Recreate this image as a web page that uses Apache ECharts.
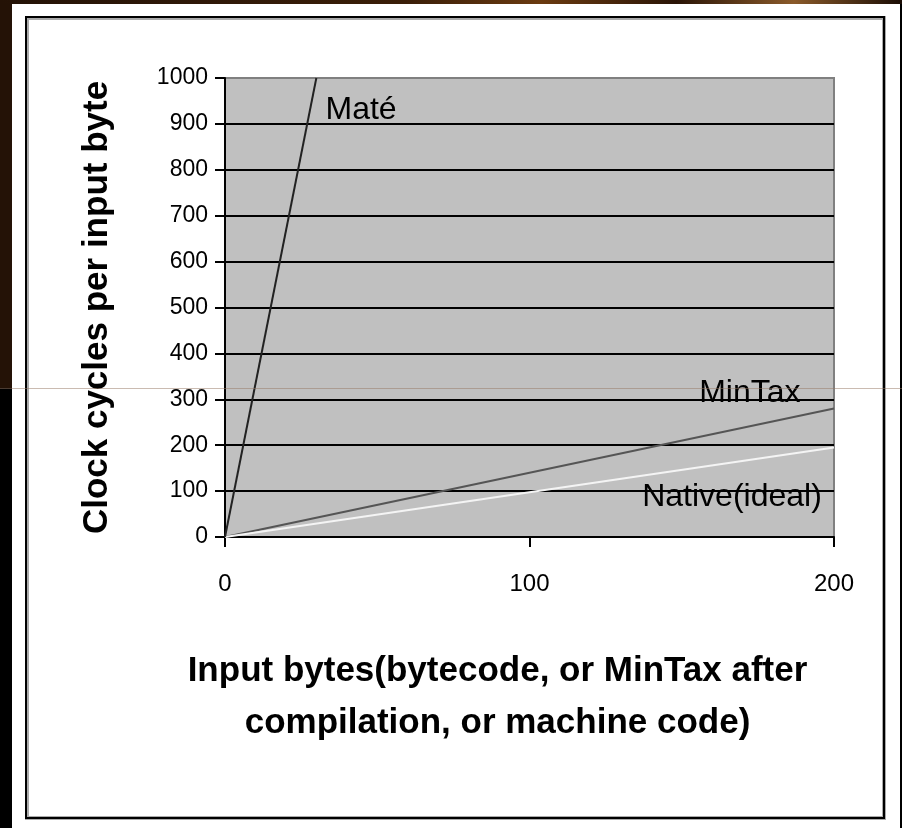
<!DOCTYPE html>
<html>
<head>
<meta charset="utf-8">
<script src="https://cdn.jsdelivr.net/npm/echarts@6/dist/echarts.min.js"></script>
<style>
html,body{margin:0;padding:0;background:#000;}
#main{width:902px;height:828px;}
</style>
</head>
<body>
<div id="main"></div>
<script>
var yTicks = [0, 100, 200, 300, 400, 500, 600, 700, 800, 900, 1000];
var xTicks = [0, 100, 200];
var mateData = [[0, 0], [30, 1000]];
var minTaxData = [[0, 0], [200, 280]];
var nativeData = [[0, 0], [200, 195]];
var seriesLabels = [
  {text: 'Maté', at: [33, 929], align: 'left'},
  {text: 'MinTax', at: [189, 314], align: 'right'},
  {text: 'Native(ideal)', at: [196, 87], align: 'right'}
];
var yTitle = 'Clock cycles per input byte';
var xTitle = 'Input bytes(bytecode, or MinTax after\ncompilation, or machine code)';

var FONT = '"Liberation Sans", Arial, sans-serif';
var chart = echarts.init(document.getElementById('main'), null, {renderer: 'canvas'});

var option = {
  animation: false,
  backgroundColor: '#ffffff',
  grid: {
    left: 225, top: 78, width: 609, height: 459,
    show: true, backgroundColor: '#c0c0c0',
    borderColor: '#808080', borderWidth: 2
  },
  xAxis: {
    type: 'value', min: 0, max: 200, interval: 100,
    axisLine: {show: true, onZero: false, lineStyle: {color: '#000', width: 2}},
    axisTick: {show: true, inside: false, length: 10, lineStyle: {color: '#000', width: 2}},
    axisLabel: {color: '#000', fontFamily: FONT, fontSize: 24, margin: 35,
      formatter: function (v) { return xTicks.indexOf(v) >= 0 ? String(v) : ''; }},
    splitLine: {show: false},
    name: xTitle, nameLocation: 'middle', nameGap: 108,
    nameTextStyle: {color: '#000', fontFamily: FONT, fontWeight: 'bold', fontSize: 35, lineHeight: 52,
      align: 'center', padding: [0, 64, 0, 0]}
  },
  yAxis: {
    type: 'value', min: 0, max: 1000, interval: 100,
    axisLine: {show: true, onZero: false, lineStyle: {color: '#000', width: 2}},
    axisTick: {show: true, inside: false, length: 10, lineStyle: {color: '#000', width: 2}},
    axisLabel: {color: '#000', fontFamily: FONT, fontSize: 23, margin: 17,
      formatter: function (v) { return yTicks.indexOf(v) >= 0 ? String(v) : ''; }},
    splitLine: {show: true, showMaxLine: false, lineStyle: {color: '#000', width: 2}},
    name: yTitle, nameLocation: 'middle', nameGap: 110,
    nameTextStyle: {color: '#000', fontFamily: FONT, fontWeight: 'bold', fontSize: 35}
  },
  series: [
    {name: 'Maté', type: 'line', data: mateData, showSymbol: false, symbol: 'none', clip: true,
      lineStyle: {color: '#222', width: 2}, z: 4},
    {name: 'MinTax', type: 'line', data: minTaxData, showSymbol: false, symbol: 'none',
      lineStyle: {color: '#555', width: 2}, z: 3},
    {name: 'Native(ideal)', type: 'line', data: nativeData, showSymbol: false, symbol: 'none',
      lineStyle: {color: '#f4f4f4', width: 2}, z: 3}
  ]
};
chart.setOption(option);

var g = [
  {type: 'rect', z: -10, silent: true, shape: {x: 0, y: 0, width: 902, height: 828}, style: {fill: '#000'}},
  {type: 'rect', z: -10, silent: true, shape: {x: 0, y: 0, width: 12, height: 388}, style: {fill: '#241206'}},
  {type: 'rect', z: -10, silent: true, shape: {x: 0, y: 0, width: 902, height: 4},
    style: {fill: new echarts.graphic.LinearGradient(0, 0, 1, 0, [
      {offset: 0, color: '#241206'}, {offset: 0.45, color: '#3a1e08'}, {offset: 0.6, color: '#6a3a10'},
      {offset: 0.75, color: '#2a1406'}, {offset: 0.88, color: '#8a5a2a'}, {offset: 1, color: '#1a0c04'}])}},
  {type: 'rect', z: -9, silent: true, shape: {x: 12, y: 4, width: 888, height: 824}, style: {fill: '#fff'}},
  {type: 'rect', z: -8, silent: true, shape: {x: 27, y: 18, width: 857, height: 800},
    style: {fill: null, stroke: '#aaa', lineWidth: 4}},
  {type: 'rect', z: -8, silent: true, shape: {x: 26, y: 17, width: 858, height: 801},
    style: {fill: null, stroke: '#000', lineWidth: 2}},
  {type: 'line', z: 100, silent: true, shape: {x1: 0, y1: 388.5, x2: 902, y2: 388.5},
    style: {stroke: 'rgba(150,120,100,0.5)', lineWidth: 1}}
];
seriesLabels.forEach(function (l) {
  var p = chart.convertToPixel({gridIndex: 0}, l.at);
  g.push({type: 'text', z: 50, silent: true, x: p[0], y: p[1],
    style: {text: l.text, fill: '#000', font: '32px ' + FONT, align: l.align, verticalAlign: 'middle'}});
});
chart.setOption({graphic: g});
</script>
</body>
</html>
